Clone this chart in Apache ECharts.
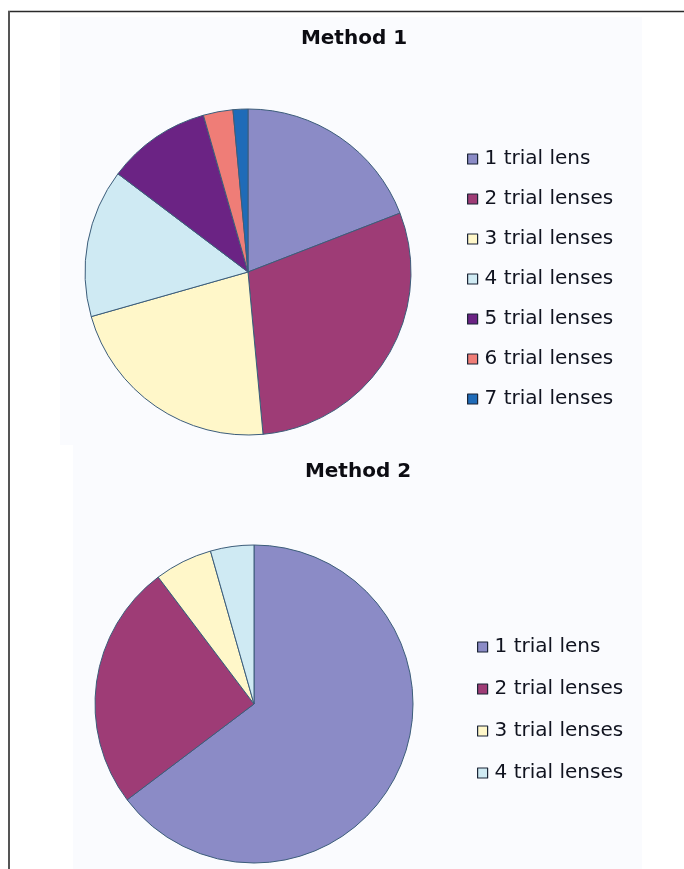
<!DOCTYPE html>
<html>
<head>
<meta charset="utf-8">
<script src="https://cdn.jsdelivr.net/npm/echarts@6/dist/echarts.min.js"></script>
<style>
  html, body { margin: 0; padding: 0; background: #ffffff; }
  #chart { width: 684px; height: 869px; }
</style>
</head>
<body>
<div id="chart"></div>
<script>
// Number of trial lenses needed per eye, for each fitting method
const categories = ['1 trial lens', '2 trial lenses', '3 trial lenses', '4 trial lenses',
                    '5 trial lenses', '6 trial lenses', '7 trial lenses'];
const method1Counts = [13, 20, 15, 10, 7, 2, 1];
const method2Counts = [44, 17, 4, 3];
const panelTitles = ['Method 1', 'Method 2'];

const sliceColors = ['#8b8bc6', '#9e3c76', '#fff7c9', '#cfeaf3', '#6b2384', '#ef7d77', '#1f6bb8'];

const chart = echarts.init(document.getElementById('chart'), null, { renderer: 'canvas' });

function pieData(counts) {
  return counts.map((v, i) => ({
    name: categories[i],
    value: v,
    itemStyle: { color: sliceColors[i] }
  }));
}

const textFont = 'DejaVu Sans';

const legendBase = {
  orient: 'vertical',
  icon: 'rect',
  itemWidth: 10,
  itemHeight: 10,
  selectedMode: false,
  itemStyle: { borderColor: '#1b2536', borderWidth: 1.2 },
  textStyle: {
    fontFamily: textFont,
    fontSize: 20,
    lineHeight: 20,
    color: '#10131f',
    padding: [0, 0, 0, 2]
  }
};

const pieBase = {
  type: 'pie',
  startAngle: 90,
  clockwise: true,
  label: { show: false },
  labelLine: { show: false },
  emphasis: { disabled: true },
  itemStyle: { borderColor: '#3c5d7a', borderWidth: 1 },
  animation: false
};

chart.setOption({
  animation: false,
  backgroundColor: '#ffffff',
  graphic: [
    // panel backgrounds
    { type: 'rect', shape: { x: 60, y: 17, width: 582, height: 428 }, style: { fill: '#fafbfe' }, silent: true, z: -10 },
    { type: 'rect', shape: { x: 73, y: 445, width: 569, height: 424 }, style: { fill: '#fafbfe' }, silent: true, z: -10 },
    // frame lines
    { type: 'line', shape: { x1: 8, y1: 11.5, x2: 684, y2: 11.5 }, style: { stroke: '#2a2a2a', lineWidth: 1.6 }, silent: true },
    { type: 'line', shape: { x1: 9, y1: 11, x2: 9, y2: 869 }, style: { stroke: '#555555', lineWidth: 2 }, silent: true }
  ],
  title: [
    {
      text: panelTitles[0], left: 349, top: 24, textAlign: 'center',
      textStyle: { fontFamily: textFont, fontWeight: 'bold', fontSize: 20, color: '#0c0c12' }
    },
    {
      text: panelTitles[1], left: 353, top: 457, textAlign: 'center',
      textStyle: { fontFamily: textFont, fontWeight: 'bold', fontSize: 20, color: '#0c0c12' }
    }
  ],
  legend: [
    Object.assign({}, legendBase, { left: 462, top: 144, itemGap: 20, data: categories.slice(0, method1Counts.length) }),
    Object.assign({}, legendBase, { left: 472, top: 632, itemGap: 22, data: categories.slice(0, method2Counts.length) })
  ],
  series: [
    Object.assign({}, pieBase, { name: panelTitles[0], center: [248, 272], radius: 163, data: pieData(method1Counts) }),
    Object.assign({}, pieBase, { name: panelTitles[1], center: [254, 704], radius: 159, data: pieData(method2Counts) })
  ]
});
</script>
</body>
</html>
